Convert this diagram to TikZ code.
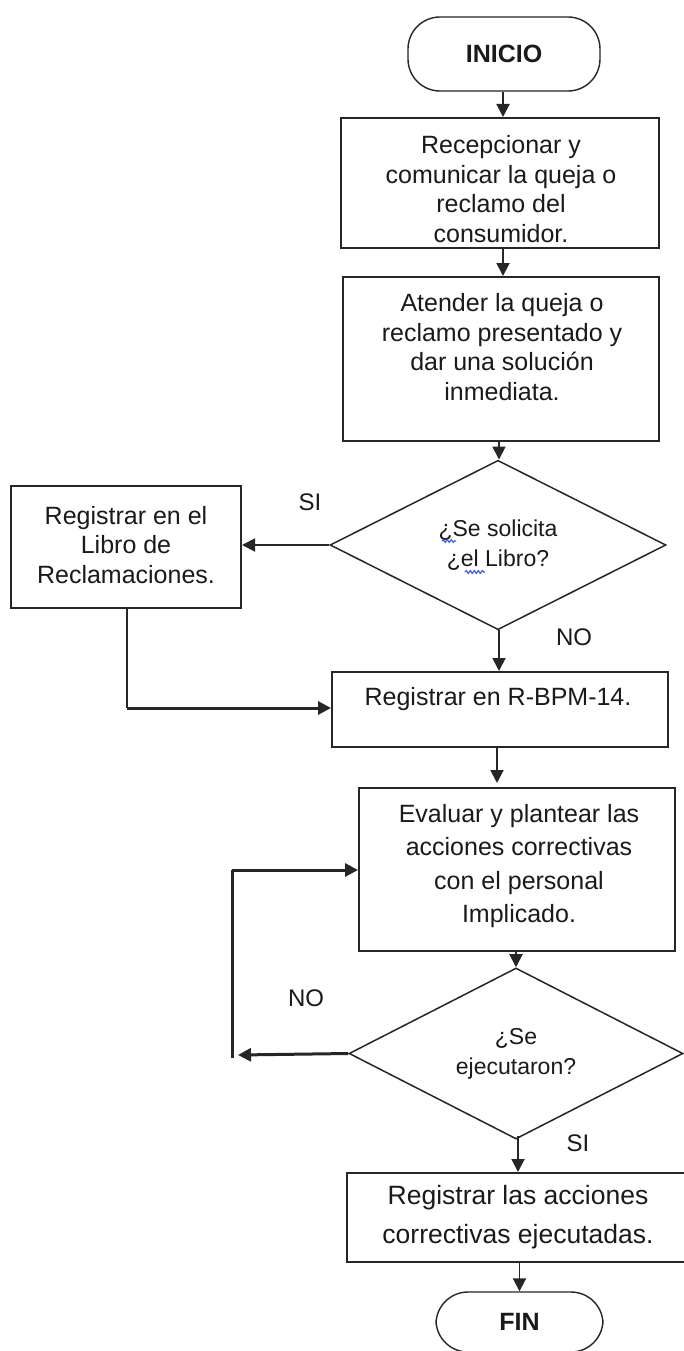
\documentclass[tikz,border=0pt]{standalone}
\usepackage{fontspec}
\setmainfont{Liberation Sans}
\usetikzlibrary{shapes.geometric,arrows.meta,decorations.pathmorphing}
\definecolor{linec}{HTML}{262626}
\definecolor{txtc}{HTML}{1A1A1A}
\definecolor{spellc}{HTML}{3F5BD8}
\begin{document}
\begin{tikzpicture}[x=1pt,y=-1pt,
  every node/.style={text=txtc},
  procbox/.style={draw=linec, line width=2pt, rectangle, inner sep=0pt},
  termbox/.style={draw=linec, line width=1.4pt, rectangle, rounded corners=32pt, inner sep=0pt,
                  font=\bfseries\fontsize{25}{29}\selectfont},
  decbox/.style={draw=linec, line width=1.5pt, diamond, inner sep=0pt, align=center,
                 font=\fontsize{23}{30}\selectfont},
  boxtext/.style={align=center, inner sep=0pt, font=\fontsize{25}{29.4}\selectfont},
  lbl/.style={inner sep=0pt, font=\fontsize{24}{28}\selectfont},
  arr/.style={draw=linec, line width=1.9pt, -{Triangle[length=13pt,width=13pt]}},
  heavyarr/.style={draw=linec, line width=3pt, -{Triangle[length=13pt,width=13pt]}},
  heavy/.style={draw=linec, line width=3pt},
  spell/.style={draw=spellc, line width=1.2pt, decorate,
                decoration={snake, amplitude=1.4pt, segment length=4pt}}
]
\useasboundingbox (0,0) rectangle (684,1351);
\clip (0,0) rectangle (684,1351);
\fill[white] (0,0) rectangle (684,1351);

% shapes
\node[termbox, minimum width=192pt, minimum height=74pt] (ini) at (504,54) {INICIO};
\node[procbox, minimum width=318pt, minimum height=130pt] (b1) at (500,183) {};
\node[boxtext] (t1) at (501,189) {Recepcionar y\\comunicar la queja o\\reclamo del\\consumidor.};
\node[procbox, minimum width=316pt, minimum height=164pt] (b2) at (501,359) {};
\node[boxtext] (t2) at (502,347) {Atender la queja o\\reclamo presentado y\\dar una solución\\inmediata.};
\node[decbox, minimum width=336pt, minimum height=144pt] (d1) at (498,545) {¿Se solicita\\¿el Libro?};
\node[procbox, minimum width=230pt, minimum height=122pt] (bl) at (126,547) {};
\node[boxtext] (tl) at (126,545) {Registrar en el\\Libro de\\Reclamaciones.};
\node[procbox, minimum width=336pt, minimum height=75pt] (b3) at (500,709.5) {};
\node[boxtext] (t3) at (498,699) {Registrar en R-BPM-14.};
\node[procbox, minimum width=316pt, minimum height=163pt] (b4) at (517,869.5) {};
\node[boxtext, font=\fontsize{25}{33.5}\selectfont] (t4) at (519,866) {Evaluar y plantear las\\acciones correctivas\\con el personal\\Implicado.};
\node[decbox, minimum width=334pt, minimum height=153pt] (d2) at (516,1053.5) {¿Se\\ejecutaron?};
\node[procbox, minimum width=343pt, minimum height=89pt] (b5) at (518.5,1217.5) {};
\node[boxtext, font=\fontsize{26.5}{38.5}\selectfont] (t5) at (518,1217) {Registrar las acciones\\correctivas ejecutadas.};
\node[termbox, minimum width=167pt, minimum height=60pt] (fin) at (519.5,1322) {FIN};

% labels
\node[lbl] (si1) at (310,502) {SI};
\node[lbl] (no1) at (574,637) {NO};
\node[lbl] (no2) at (306,998) {NO};
\node[lbl] (si2) at (578,1143) {SI};

% spell-check marks
\coordinate (s1a) at (442,541); \coordinate (s1b) at (456,541);
\coordinate (s2a) at (465,572); \coordinate (s2b) at (485,572);
\draw[spell] (s1a) -- (s1b);
\draw[spell] (s2a) -- (s2b);

% connectors
\draw[arr] (ini.south -| 503,0) -- (503,0 |- b1.north);
\draw[arr] (503,0 |- b1.south) -- (503,0 |- b2.north);
\draw[arr] (499,0 |- b2.south) -- (d1.north -| 499,0);
\draw[arr] (d1.west) -- (bl.east |- d1.west);
\draw[arr] (d1.south -| 499,0) -- (499,0 |- b3.north);
\coordinate (lc) at (127,708);
\draw[draw=linec, line width=1.9pt] (bl.south -| lc) -- (lc);
\draw[heavyarr] (lc) -- (b3.west |- lc);
\coordinate (c3) at (497,783);
\draw[arr] (b3.south -| c3) -- (c3);
\draw[arr] (b4.south -| d2.north) -- (d2.north);
\coordinate (ret) at (238,1055);
\draw[heavyarr] (d2.west) -- (ret);
\coordinate (rb) at (232,1058);
\coordinate (rt) at (232,870);
\draw[heavy] (rb) -- (rt);
\draw[heavyarr] (rt) -- (b4.west |- rt);
\coordinate (c5) at (518,1136);
\draw[arr] (c5) -- (c5 |- b5.north);
\draw[arr] (b5.south -| fin.north) -- (fin.north);
\end{tikzpicture}
\end{document}
